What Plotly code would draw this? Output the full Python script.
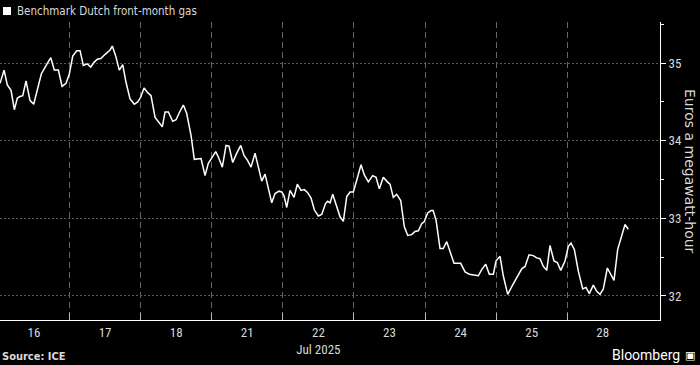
import plotly.graph_objects as go

# Trading sessions shown on the x axis (one slot per session)
day_labels = ["16", "17", "18", "21", "22<br>Jul 2025", "23", "24", "25", "28"]

# Intraday observations: position in session units (session index + fraction of session)
session_time = [
    0.023, 0.079, 0.125, 0.177, 0.224, 0.266, 0.304, 0.342, 0.388, 0.444, 0.496, 0.547, 0.603, 0.665, 0.736,
    0.786, 0.843, 0.895, 0.951, 0.997, 1.045, 1.101, 1.148, 1.194, 1.250, 1.298, 1.345, 1.391, 1.439, 1.509,
    1.570, 1.602, 1.650, 1.700, 1.748, 1.795, 1.851, 1.911, 1.959, 2.001, 2.048, 2.100, 2.146, 2.203, 2.249,
    2.305, 2.343, 2.390, 2.451, 2.498, 2.554, 2.601, 2.648, 2.709, 2.755, 2.850, 2.906, 2.952, 3.056, 3.093,
    3.149, 3.201, 3.243, 3.295, 3.352, 3.408, 3.454, 3.501, 3.553, 3.609, 3.656, 3.703, 3.750, 3.796, 3.844,
    3.890, 3.947, 3.985, 4.017, 4.055, 4.101, 4.158, 4.204, 4.256, 4.302, 4.350, 4.397, 4.443, 4.499, 4.547,
    4.601, 4.631, 4.664, 4.702, 4.748, 4.805, 4.851, 4.899, 4.945, 4.992, 5.039, 5.100, 5.146, 5.203, 5.264,
    5.311, 5.357, 5.414, 5.470, 5.508, 5.554, 5.602, 5.658, 5.709, 5.757, 5.813, 5.859, 5.906, 5.954, 5.990,
    6.038, 6.084, 6.113, 6.155, 6.211, 6.257, 6.305, 6.361, 6.408, 6.502, 6.563, 6.623, 6.680, 6.750, 6.797,
    6.854, 6.904, 6.961, 6.998, 7.055, 7.101, 7.163, 7.220, 7.298, 7.360, 7.407, 7.463, 7.523, 7.571, 7.617,
    7.664, 7.712, 7.758, 7.814, 7.861, 7.909, 7.969, 8.016, 8.053, 8.100, 8.156, 8.218, 8.264, 8.311, 8.367,
    8.415, 8.461, 8.508, 8.564, 8.658, 8.710, 8.813, 8.859,
]

# Benchmark Dutch front-month gas, euros per megawatt-hour
price = [
    34.74, 34.91, 34.72, 34.65, 34.40, 34.55, 34.57, 34.58, 34.77, 34.52, 34.47, 34.67, 34.86, 34.96, 35.07,
    34.91, 34.91, 34.70, 34.74, 34.86, 35.09, 35.16, 35.16, 34.97, 34.99, 34.95, 35.01, 35.05, 35.06, 35.12,
    35.17, 35.22, 35.09, 34.91, 34.98, 34.75, 34.54, 34.47, 34.50, 34.56, 34.68, 34.62, 34.58, 34.30, 34.25,
    34.18, 34.37, 34.37, 34.25, 34.27, 34.38, 34.46, 34.35, 34.07, 33.76, 33.77, 33.55, 33.71, 33.86, 33.79,
    33.66, 33.94, 33.93, 33.72, 33.84, 33.94, 33.81, 33.75, 33.66, 33.84, 33.66, 33.48, 33.57, 33.39, 33.20,
    33.32, 33.35, 33.34, 33.29, 33.14, 33.36, 33.27, 33.44, 33.36, 33.37, 33.33, 33.26, 33.11, 33.03, 33.05,
    33.19, 33.22, 33.20, 33.31, 33.17, 33.02, 32.96, 33.28, 33.34, 33.34, 33.49, 33.69, 33.56, 33.47, 33.55,
    33.53, 33.38, 33.53, 33.47, 33.44, 33.27, 33.31, 33.23, 32.89, 32.78, 32.79, 32.83, 32.84, 32.93, 32.96,
    33.07, 33.10, 33.10, 32.98, 32.61, 32.61, 32.70, 32.53, 32.42, 32.42, 32.31, 32.28, 32.27, 32.26, 32.34,
    32.41, 32.28, 32.28, 32.45, 32.51, 32.26, 32.02, 32.12, 32.24, 32.35, 32.38, 32.53, 32.52, 32.49, 32.48,
    32.38, 32.33, 32.65, 32.45, 32.43, 32.33, 32.45, 32.64, 32.68, 32.60, 32.32, 32.09, 32.11, 32.03, 32.14,
    32.06, 32.02, 32.09, 32.36, 32.20, 32.60, 32.92, 32.86,
]

y_ticks = [32, 33, 34, 35]

FONT = "Liberation Sans Narrow, Roboto Condensed, Arial Narrow, DejaVu Sans Condensed, sans-serif"
TXT = "#d9d9d9"

fig = go.Figure()
fig.add_trace(go.Scatter(
    x=session_time, y=price, mode="lines",
    line=dict(color="#ffffff", width=1.5),
    name="Benchmark Dutch front-month gas",
    showlegend=False, hoverinfo="skip",
))

n = len(day_labels)
fig.update_layout(
    width=700, height=365,
    paper_bgcolor="#000000", plot_bgcolor="#000000",
    margin=dict(l=0, r=40, t=22, b=45),
    font=dict(family=FONT, color=TXT, size=12),
    xaxis=dict(
        range=[0.022, 9.305],
        tickmode="array",
        tickvals=[i + 0.5 for i in range(n)],
        ticktext=day_labels,
        ticks="", showgrid=False, zeroline=False,
        showline=True, linecolor="#ffffff", linewidth=1,
        tickfont=dict(size=13, color=TXT, family=FONT),
        minor=dict(
            tickmode="array", tickvals=list(range(1, n)),
            ticks="inside", ticklen=7, tickcolor="#bbbbbb", tickwidth=1,
            showgrid=True, gridcolor="#666666", griddash="6px,4px", gridwidth=1,
        ),
    ),
    yaxis=dict(
        side="right",
        range=[31.69, 35.53],
        tickmode="array", tickvals=y_ticks,
        ticks="outside", ticklen=5, tickcolor="#ffffff",
        showline=True, linecolor="#ffffff", linewidth=1,
        showgrid=True, gridcolor="#5c5c5c", griddash="2px,2px", gridwidth=1,
        zeroline=False,
        tickfont=dict(size=13, color=TXT, family=FONT),
        minor=dict(tickmode="linear", tick0=31.5, dtick=0.5, ticks="outside",
                   ticklen=3, tickcolor="#ffffff", showgrid=False),
    ),
    shapes=[dict(type="rect", xref="paper", yref="paper",
                 x0=3 / 660, x1=11 / 660, y0=1 + 7 / 298, y1=1 + 15 / 298,
                 fillcolor="#ffffff", line=dict(width=0))],
    annotations=[
        dict(text="Benchmark Dutch front-month gas", xref="paper", yref="paper",
             x=15 / 660, y=1 + 11 / 298, xanchor="left", yanchor="middle", showarrow=False,
             font=dict(size=11.5, color=TXT, family="DejaVu Sans Condensed, sans-serif")),
        dict(text="Euros a megawatt-hour", xref="paper", yref="paper",
             x=1 + 30 / 660, y=0.5, xanchor="center", yanchor="middle", showarrow=False,
             textangle=90, font=dict(size=14, color=TXT, family="DejaVu Sans, sans-serif")),
        dict(text="<b>Source: ICE</b>", xref="paper", yref="paper",
             x=0, y=-36 / 298, xanchor="left", yanchor="middle", showarrow=False,
             font=dict(size=11, color=TXT, family="DejaVu Sans Condensed, sans-serif")),
        dict(text="Bloomberg", xref="paper", yref="paper",
             x=1 + 22 / 660, y=-35 / 298, xanchor="right", yanchor="middle", showarrow=False,
             font=dict(size=14, color="#ffffff", family="Roboto, sans-serif")),
        dict(text="▣", xref="paper", yref="paper",
             x=1 + 37 / 660, y=-35 / 298, xanchor="right", yanchor="middle", showarrow=False,
             font=dict(size=11, color="#ffffff", family="DejaVu Sans, sans-serif")),
    ],
)

fig.write_html("out.html", config={"displayModeBar": False},
               post_script="document.body.style.margin='0';document.body.style.background='#000';")
